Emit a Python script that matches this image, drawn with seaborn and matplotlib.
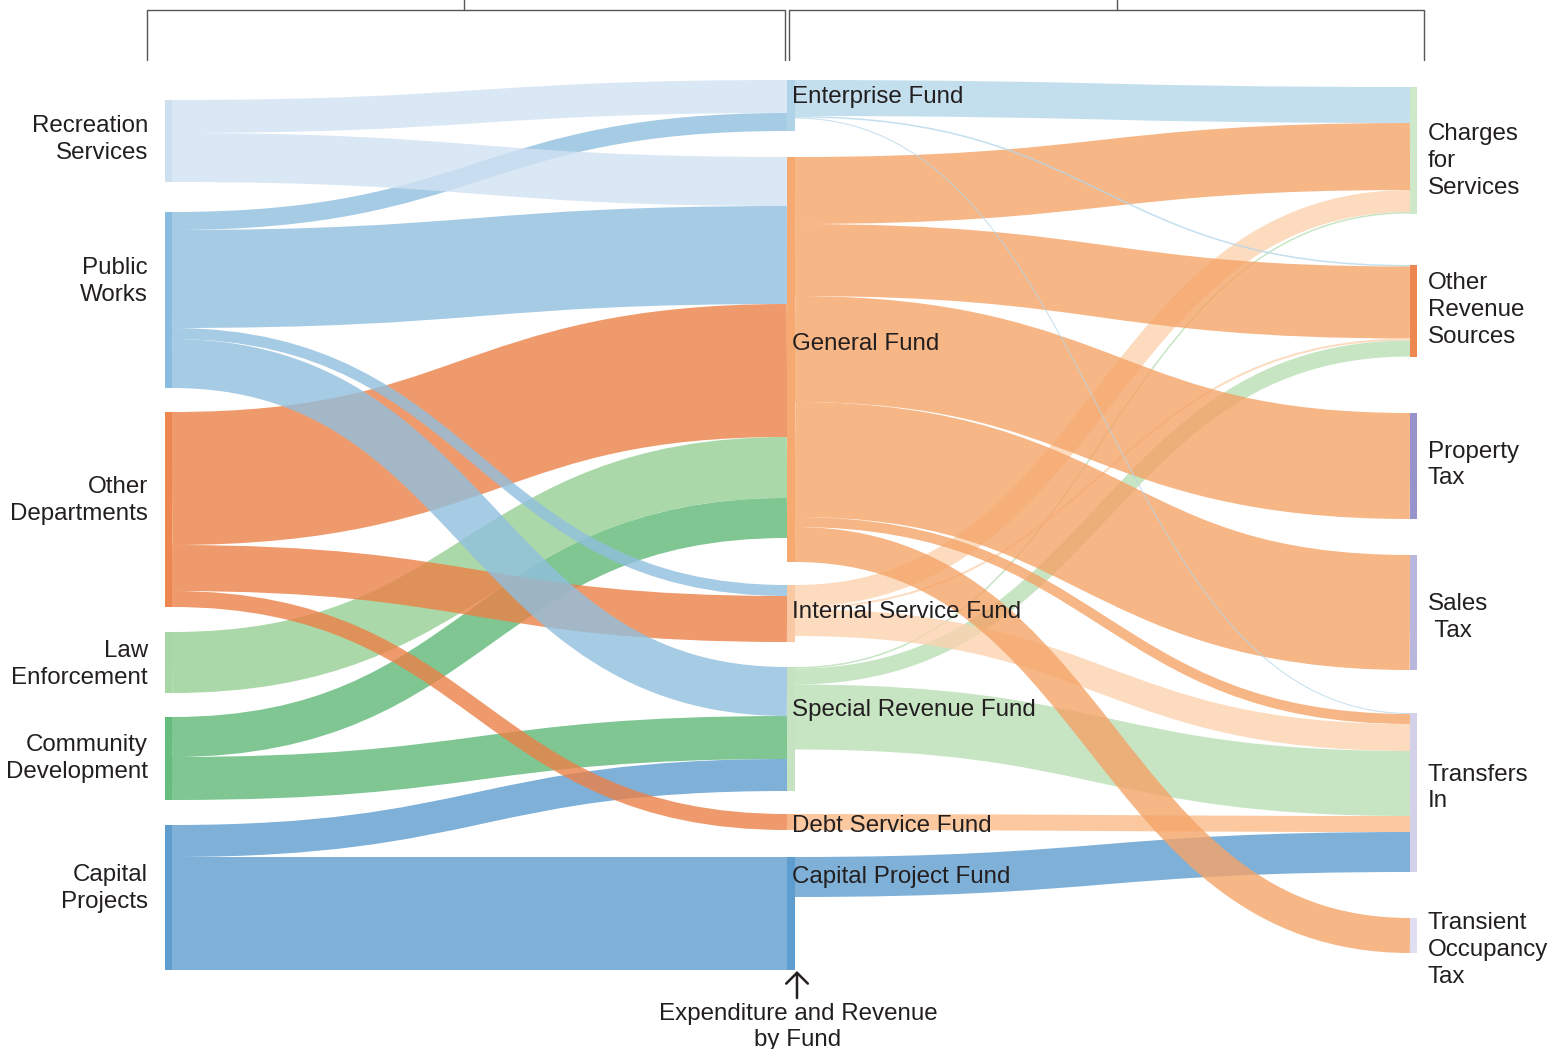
import numpy as np
import pandas as pd
import seaborn as sns
import matplotlib.pyplot as plt
from matplotlib.path import Path
from matplotlib.patches import PathPatch, Rectangle

sns.set_theme(style="white")
plt.rcParams['font.family'] = ['Liberation Sans', 'DejaVu Sans']

### Data
# =============================================================================
departments = ['Recreation Services', 'Public Works', 'Other Departments',
               'Law Enforcement', 'Community Development', 'Capital Projects']
funds = ['Enterprise Fund', 'General Fund', 'Internal Service Fund',
         'Special Revenue Fund', 'Debt Service Fund', 'Capital Project Fund']
revenues = ['Charges for Services', 'Other Revenue Sources', 'Property Tax',
            'Sales Tax', 'Transfers In', 'Transient Occupancy Tax']

dept_labels = ['Recreation\nServices', 'Public\nWorks', 'Other\nDepartments',
               'Law\nEnforcement', 'Community\nDevelopment', 'Capital\nProjects']
fund_labels = funds
rev_labels = ['Charges\nfor\nServices', 'Other\nRevenue\nSources', 'Property\nTax',
              'Sales\n Tax', 'Transfers\nIn', 'Transient\nOccupancy\nTax']

# expenditure: department -> fund
exp_source = ['Recreation Services', 'Recreation Services',
              'Public Works', 'Public Works', 'Public Works', 'Public Works',
              'Other Departments', 'Other Departments', 'Other Departments',
              'Law Enforcement',
              'Community Development', 'Community Development',
              'Capital Projects', 'Capital Projects']
exp_target = ['Enterprise Fund', 'General Fund',
              'Enterprise Fund', 'General Fund', 'Internal Service Fund', 'Special Revenue Fund',
              'General Fund', 'Internal Service Fund', 'Debt Service Fund',
              'General Fund',
              'General Fund', 'Special Revenue Fund',
              'Special Revenue Fund', 'Capital Project Fund']
exp_value = [33, 49,
             18, 98, 11, 49,
             133, 46, 16,
             61,
             40, 43,
             32, 113]

# revenue: fund -> revenue source
rev_source = ['Enterprise Fund', 'Enterprise Fund', 'Enterprise Fund',
              'General Fund', 'General Fund', 'General Fund', 'General Fund',
              'General Fund', 'General Fund',
              'Internal Service Fund', 'Internal Service Fund', 'Internal Service Fund',
              'Special Revenue Fund', 'Special Revenue Fund', 'Special Revenue Fund',
              'Debt Service Fund',
              'Capital Project Fund']
rev_target = ['Charges for Services', 'Other Revenue Sources', 'Transfers In',
              'Charges for Services', 'Other Revenue Sources', 'Property Tax', 'Sales Tax',
              'Transfers In', 'Transient Occupancy Tax',
              'Charges for Services', 'Other Revenue Sources', 'Transfers In',
              'Charges for Services', 'Other Revenue Sources', 'Transfers In',
              'Transfers In',
              'Transfers In']
rev_value = [36, 1.5, 1,
             67, 72, 106, 115, 10, 35,
             22, 2, 27,
             1.5, 16, 65,
             16,
             40]
# =============================================================================

links = pd.concat([
    pd.DataFrame({'source': exp_source, 'target': exp_target, 'value': exp_value}),
    pd.DataFrame({'source': rev_source, 'target': rev_target, 'value': rev_value}),
], ignore_index=True)

# colours: link colour follows its source node
link_color = {
    'Recreation Services': '#d1e2f2', 'Public Works': '#90bfde',
    'Other Departments': '#eb8147', 'Law Enforcement': '#96cf92',
    'Community Development': '#5fb878', 'Capital Projects': '#5f9dcf',
    'Enterprise Fund': '#b5d7ea', 'General Fund': '#f5a468',
    'Internal Service Fund': '#fcd3b0', 'Special Revenue Fund': '#b9deb5',
    'Debt Service Fund': '#fbbb88', 'Capital Project Fund': '#5f9dcf',
}
node_color = {
    'Recreation Services': '#c9ddef', 'Public Works': '#7db5dc',
    'Other Departments': '#ec7a3c', 'Law Enforcement': '#9dd39a',
    'Community Development': '#55b56e', 'Capital Projects': '#4f93ca',
    'Enterprise Fund': '#a9cfe6', 'General Fund': '#f5a062',
    'Internal Service Fund': '#f9c49a', 'Special Revenue Fund': '#bfe0bb',
    'Debt Service Fund': '#f7ae7c', 'Capital Project Fund': '#4f93ca',
    'Charges for Services': '#c9e7c4', 'Other Revenue Sources': '#ec7a3c',
    'Property Tax': '#8b87c8', 'Sales Tax': '#b3b0dc',
    'Transfers In': '#cfcce7', 'Transient Occupancy Tax': '#dcdcf0',
}

### Layout (pixel space)
# =============================================================================
W, H = 1564, 1049
columns = [departments, funds, revenues]
col_x = [165, 787, 1410]
bar_w = [7, 8, 7]
col_top = [100, 80, 87]
col_gaps = [[30, 24, 25, 24, 25], [26, 23, 25, 23, 27], [51.5, 56.5, 36, 43, 46]]

node = {}
for c, names in enumerate(columns):
    y = col_top[c]
    for i, n in enumerate(names):
        vin = links.loc[links.target == n, 'value'].sum()
        vout = links.loc[links.source == n, 'value'].sum()
        h = max(vin, vout)
        node[n] = dict(col=c, idx=i, x0=col_x[c], x1=col_x[c] + bar_w[c], y0=y, y1=y + h)
        y += h
        if i < len(names) - 1:
            y += col_gaps[c][i]

# stack links at each node, ordered by the position of the other end
links['sy'] = 0.0
links['ty'] = 0.0
for n, d in node.items():
    out = links[links.source == n].copy()
    out['o'] = out.target.map(lambda t: node[t]['idx'])
    y = d['y0']
    for k in out.sort_values('o').index:
        links.loc[k, 'sy'] = y + links.loc[k, 'value'] / 2
        y += links.loc[k, 'value']
    inc = links[links.target == n].copy()
    inc['o'] = inc.source.map(lambda s: node[s]['idx'])
    y = d['y0']
    for k in inc.sort_values('o').index:
        links.loc[k, 'ty'] = y + links.loc[k, 'value'] / 2
        y += links.loc[k, 'value']

# links into lower nodes are painted last
links['tcol'] = links.target.map(lambda t: node[t]['col'])
links['tidx'] = links.target.map(lambda t: node[t]['idx'])
links = links.sort_values(['tcol', 'tidx'], kind='stable')

### Drawing
# =============================================================================
fig = plt.figure(figsize=(W / 100, H / 100), dpi=100)
ax = fig.add_axes([0, 0, 1, 1])
ax.set_xlim(0, W)
ax.set_ylim(H, 0)
ax.axis('off')

px_to_pt = 72 / 100
for _, r in links.iterrows():
    xa = node[r.source]['x1']
    xb = node[r.target]['x0']
    xm = (xa + xb) / 2
    path = Path([(xa, r.sy), (xm, r.sy), (xm, r.ty), (xb, r.ty)],
                [Path.MOVETO, Path.CURVE4, Path.CURVE4, Path.CURVE4])
    ax.add_patch(PathPatch(path, facecolor='none', edgecolor=link_color[r.source],
                           lw=r.value * px_to_pt, alpha=0.8, capstyle='butt'))

for n, d in node.items():
    ax.add_patch(Rectangle((d['x0'], d['y0']), d['x1'] - d['x0'], d['y1'] - d['y0'],
                           color=node_color[n], lw=0, alpha=0.9))

txt = dict(fontsize=17.4, color='#231f20', linespacing=1.28)

# label nudges relative to node centre
dept_nudge = [-1.5, -18.5, -9, 2, 0, -9]
fund_nudge = [-8.5, -15.5, -1, -19, 4, -36.5]
rev_nudge = [10.5, -1, -1, 5, -4.5, 14.5]

for n, lab, dy in zip(departments, dept_labels, dept_nudge):
    d = node[n]
    ax.text(d['x0'] - 17, (d['y0'] + d['y1']) / 2 + dy, lab, ha='right', va='center', **txt)
for n, lab, dy in zip(funds, fund_labels, fund_nudge):
    d = node[n]
    ax.text(d['x0'] + 5, (d['y0'] + d['y1']) / 2 + dy, lab, ha='left', va='center', **txt)
for n, lab, dy in zip(revenues, rev_labels, rev_nudge):
    d = node[n]
    ax.text(d['x1'] + 11, (d['y0'] + d['y1']) / 2 + dy, lab, ha='left', va='center', **txt)

# brackets over the two halves
bk = dict(color='#555555', lw=1)
for xa, xb, f in [(col_x[0] - 18, col_x[1] - 2, 0.497), (col_x[1] + 2, col_x[2] + bar_w[2] + 7, 0.516)]:
    ax.plot([xa, xa, xb, xb], [60, 10, 10, 60], **bk)
    ax.plot([xa + f * (xb - xa)] * 2, [10, 0], **bk)

# arrow to the fund column
fx = col_x[1] + 10
ax.annotate('', xy=(fx, 971), xytext=(fx, 998),
            arrowprops=dict(arrowstyle='->, head_length=0.3, head_width=0.3',
                            lw=1.8, color='#231f20', mutation_scale=26,
                            shrinkA=0, shrinkB=0))
ax.text(fx + 1, 1027, 'Expenditure and Revenue\nby Fund', ha='center', va='center', **txt)

plt.savefig('out.png', dpi=100)
